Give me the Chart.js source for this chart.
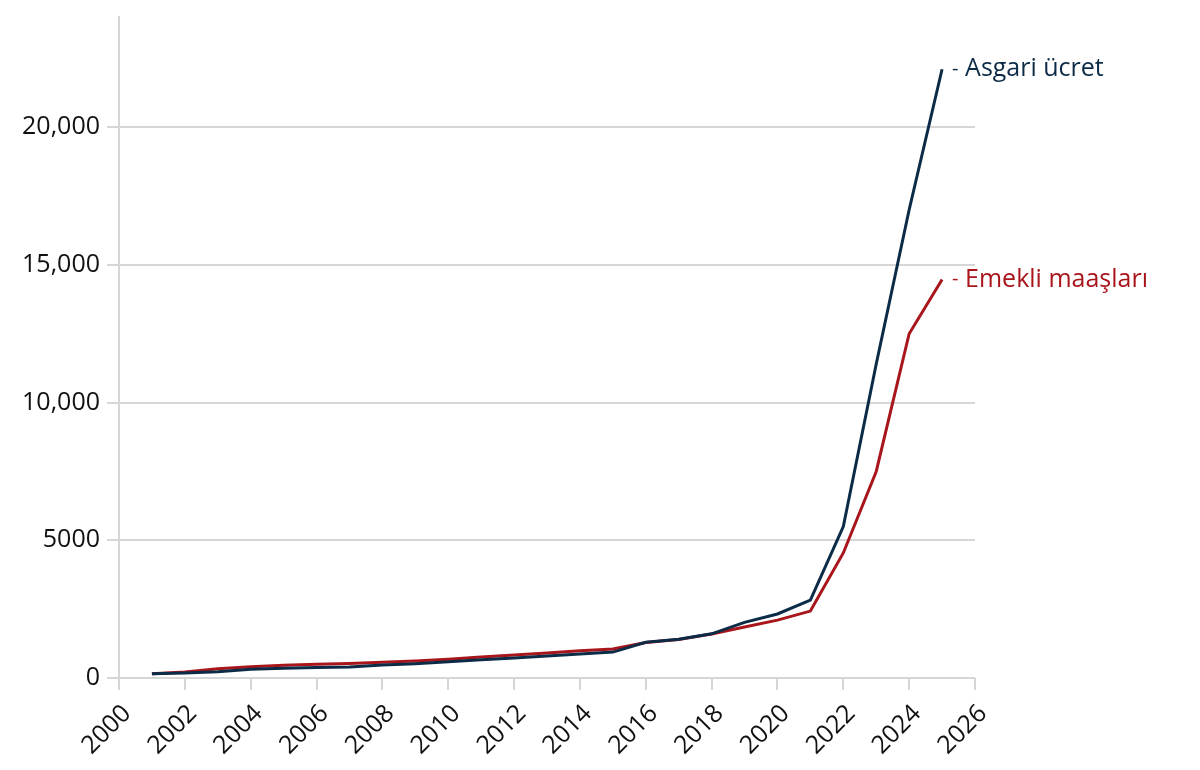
<!DOCTYPE html>
<html>
<head>
<meta charset="utf-8">
<script src="https://cdn.jsdelivr.net/npm/chart.js@4"></script>
<style>
  body { margin: 0; background: #fff; }
  #wrap { width: 1200px; height: 770px; position: relative; }
</style>
</head>
<body>
<div id="wrap"><canvas id="wageChart"></canvas></div>
<script>
// Data (TL, yearly)
const years = [2001, 2002, 2003, 2004, 2005, 2006, 2007, 2008, 2009, 2010, 2011, 2012, 2013,
  2014, 2015, 2016, 2017, 2018, 2019, 2020, 2021, 2022, 2023, 2024, 2025];
const asgariUcret = [150, 185, 230, 318, 350, 380, 403, 470, 520, 590, 660, 730, 800,
  870, 940, 1300, 1404, 1603, 2021, 2325, 2826, 5500, 11402, 17002, 22104];
const emekliMaaslari = [150, 220, 340, 410, 460, 495, 530, 570, 620, 680, 760, 835, 910,
  990, 1050, 1290, 1400, 1600, 1850, 2100, 2430, 4540, 7500, 12500, 14469];
const seriesNames = ["Asgari ücret", "Emekli maaşları"];
const yTicks = [0, 5000, 10000, 15000, 20000];

const navy = "#0c2b47";
const red = "#a8161b";
const gridGray = "#d6d6d6";
const font = "'Open Sans', 'Noto Sans', sans-serif";

const toPoints = (vals) => vals.map((v, i) => ({ x: years[i], y: v }));

// Labels at the end of each line
const endLabels = {
  id: "endLabels",
  afterDatasetsDraw(chart) {
    const ctx = chart.ctx;
    ctx.save();
    chart.data.datasets.forEach((ds, i) => {
      const meta = chart.getDatasetMeta(i);
      const last = meta.data[meta.data.length - 1];
      ctx.textBaseline = "middle";
      ctx.fillStyle = ds.borderColor;
      ctx.font = "20px " + font;
      ctx.fillText("-", last.x + 10, last.y);
      ctx.font = "25px " + font;
      ctx.fillText(ds.label, last.x + 23, last.y);
    });
    ctx.restore();
  },
};

new Chart(document.getElementById("wageChart"), {
  type: "line",
  data: {
    datasets: [
      {
        label: seriesNames[0],
        data: toPoints(asgariUcret),
        borderColor: navy,
        borderWidth: 3,
        pointRadius: 0,
        tension: 0,
      },
      {
        label: seriesNames[1],
        data: toPoints(emekliMaaslari),
        borderColor: red,
        borderWidth: 3,
        pointRadius: 0,
        tension: 0,
      },
    ],
  },
  options: {
    responsive: true,
    maintainAspectRatio: false,
    animation: false,
    layout: { padding: { top: 17, right: 225, left: 0, bottom: 0 } },
    plugins: {
      legend: { display: false },
      tooltip: { enabled: false },
    },
    scales: {
      x: {
        type: "linear",
        min: 2000,
        max: 2026,
        ticks: {
          stepSize: 2,
          minRotation: 45,
          maxRotation: 45,
          color: "#111",
          font: { family: font, size: 25 },
          padding: 9,
          labelOffset: 8,
          callback: (v) => String(v),
        },
        grid: { drawOnChartArea: false, drawTicks: true, tickLength: 12, color: gridGray, lineWidth: 2 },
        border: { display: false },
        afterFit: (s) => { s.height = 92; },
      },
      y: {
        min: 0,
        max: 24000,
        afterBuildTicks: (s) => { s.ticks = yTicks.map((v) => ({ value: v })); },
        ticks: {
          color: "#111",
          font: { family: font, size: 25 },
          padding: 7,
          callback: (v) => (v >= 10000 ? v.toLocaleString("en-US") : String(v)),
        },
        grid: { color: gridGray, lineWidth: 2, tickLength: 12 },
        border: { color: gridGray, width: 2 },
        afterFit: (s) => {
          s.width = 119;
          s.paddingTop = 0;
          s.paddingBottom = 0;
        },
      },
    },
  },
  plugins: [endLabels],
});
</script>
</body>
</html>
